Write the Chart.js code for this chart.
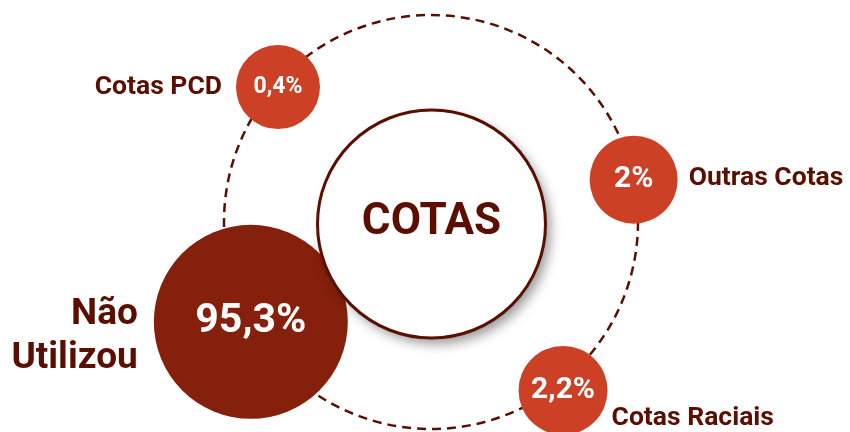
<!DOCTYPE html>
<html>
<head>
<meta charset="utf-8">
<script src="https://cdn.jsdelivr.net/npm/chart.js@4"></script>
<style>
  html, body { margin: 0; padding: 0; background: #fff; }
  #wrap { width: 850px; height: 432px; position: relative; }
</style>
</head>
<body>
<div id="wrap"><canvas id="cotasChart"></canvas></div>
<script>
// data
const categories = [["Não", "Utilizou"], ["Cotas PCD"], ["Outras Cotas"], ["Cotas Raciais"]];
const values = [95.3, 0.4, 2, 2.2];
const centerTitle = "COTAS";

// layout: where each bubble sits around the dashed ring
const angles = [-151, 138.6, 11.8, -51.9];
const distances = [206, 204, 207, 214];
const bubbleSizes = [97, 42, 44, 44.5];
const bubbleColors = ["#85200C", "#CC4125", "#CC4125", "#CC4125"];
const valueFont = [41, 23, 30, 30];
const labelSide = ["left", "left", "right", "below"];

const ringRadius = 207;
const centerRadius = 114;
const darkText = "#5B0F00";

function fmt(v) {
  return String(v).replace(".", ",") + "%";
}

const points = values.map((v, i) => {
  const a = angles[i] * Math.PI / 180;
  return { x: distances[i] * Math.cos(a), y: distances[i] * Math.sin(a), r: bubbleSizes[i], v: v };
});

const ringPlugin = {
  id: "ring",
  beforeDatasetsDraw(chart) {
    const { ctx, scales } = chart;
    const cx = scales.x.getPixelForValue(0);
    const cy = scales.y.getPixelForValue(0);
    const rr = scales.x.getPixelForValue(ringRadius) - cx;
    ctx.save();
    ctx.strokeStyle = darkText;
    ctx.lineWidth = 2.5;
    ctx.setLineDash([9, 6]);
    ctx.beginPath();
    ctx.arc(cx, cy, rr, 0, Math.PI * 2);
    ctx.stroke();
    ctx.restore();
  },
  afterDatasetsDraw(chart) {
    const { ctx, scales } = chart;
    const cx = scales.x.getPixelForValue(0.5);
    const cy = scales.y.getPixelForValue(-2);
    const cr = scales.x.getPixelForValue(centerRadius) - scales.x.getPixelForValue(0);

    // centre circle with shadow
    ctx.save();
    ctx.shadowColor = "rgba(0,0,0,0.4)";
    ctx.shadowBlur = 12;
    ctx.shadowOffsetX = 5;
    ctx.shadowOffsetY = 6;
    ctx.fillStyle = "#fff";
    ctx.beginPath();
    ctx.arc(cx, cy, cr, 0, Math.PI * 2);
    ctx.fill();
    ctx.restore();
    ctx.save();
    ctx.strokeStyle = "#5B0F00";
    ctx.lineWidth = 3;
    ctx.beginPath();
    ctx.arc(cx, cy, cr, 0, Math.PI * 2);
    ctx.stroke();
    ctx.fillStyle = darkText;
    ctx.font = "bold 44px Roboto";
    ctx.textAlign = "center";
    ctx.textBaseline = "middle";
    ctx.fillText(centerTitle, cx, cy - 1);

    const meta = chart.getDatasetMeta(0);
    meta.data.forEach((el, i) => {
      const r = bubbleSizes[i];
      // value inside bubble
      ctx.fillStyle = "#fff";
      ctx.font = "bold " + valueFont[i] + "px Roboto";
      ctx.textAlign = "center";
      ctx.textBaseline = "middle";
      ctx.fillText(fmt(values[i]), el.x, el.y);

      // category label
      ctx.fillStyle = darkText;
      const lines = categories[i];
      if (labelSide[i] === "left" && lines.length > 1) {
        ctx.font = "bold 37px Roboto";
        ctx.textAlign = "right";
        ctx.fillText(lines[0], el.x - r - 16, el.y - 7);
        ctx.fillText(lines[1], el.x - r - 16, el.y + 37);
      } else if (labelSide[i] === "left") {
        ctx.font = "bold 26.5px Roboto";
        ctx.textAlign = "right";
        ctx.fillText(lines[0], el.x - r - 14, el.y);
      } else if (labelSide[i] === "right") {
        ctx.font = "bold 26.5px Roboto";
        ctx.textAlign = "left";
        ctx.fillText(lines[0], el.x + r + 11, el.y - 1);
      } else {
        ctx.font = "bold 26.5px Roboto";
        ctx.textAlign = "left";
        ctx.fillText(lines[0], el.x + r + 4, el.y + 28);
      }
    });
    ctx.restore();
  }
};

new Chart(document.getElementById("cotasChart").getContext("2d"), {
  type: "bubble",
  data: {
    datasets: [
      {
        data: points,
        backgroundColor: bubbleColors,
        borderWidth: 0,
        hoverBorderWidth: 0,
        clip: false,
      },
    ],
  },
  options: {
    responsive: true,
    maintainAspectRatio: false,
    animation: false,
    events: [],
    layout: { padding: 0, autoPadding: false },
    plugins: {
      legend: { display: false },
      tooltip: { enabled: false },
    },
    scales: {
      x: { type: "linear", min: -431, max: 419, display: false },
      y: { type: "linear", min: -210, max: 222, display: false },
    },
  },
  plugins: [ringPlugin],
});
</script>
</body>
</html>
